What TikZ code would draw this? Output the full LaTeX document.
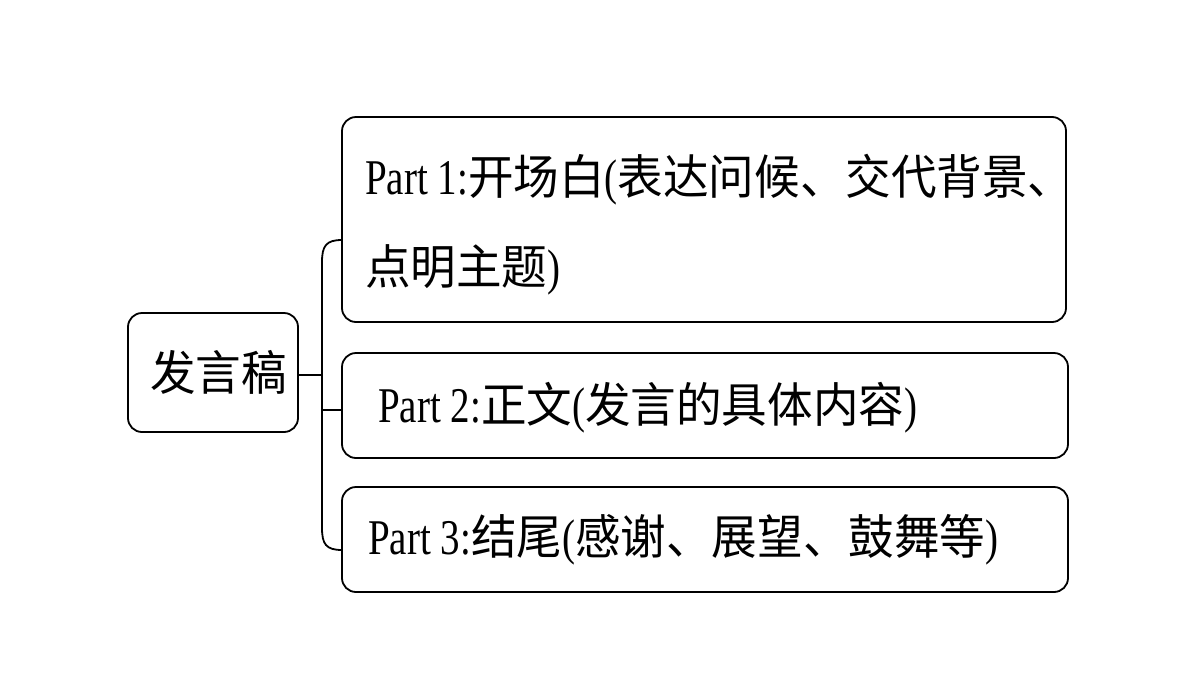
\documentclass[tikz,border=0pt]{standalone}
\usepackage{fontspec}
\setmainfont{Liberation Serif}
\newfontfamily\cjk{Noto Sans CJK SC}[Scale=0.95]
\newcommand{\zh}[1]{\scalebox{1.23}[1]{\cjk #1}}
\newcommand{\sq}[1]{\scalebox{0.78}[1]{\fontsize{50}{60}\selectfont #1}}
\begin{document}
\begin{tikzpicture}[x=1pt,y=-1pt,
  box/.style={draw,line width=1.8pt,rounded corners=14pt},
  ln/.style={line width=1.8pt},
  txt/.style={anchor=west,inner sep=0pt}]
\useasboundingbox (0,0) rectangle (1200,675);
\draw[box] (128,313) rectangle (298,432);
\draw[box] (342,117) rectangle (1066,322);
\draw[box] (342,353) rectangle (1068,458);
\draw[box] (342,487) rectangle (1068,592);
\coordinate (r) at (298,375);
\coordinate (j) at (322,375);
\draw[ln] (r) -- (j);
\draw[ln] (342,240) .. controls (326,240) and (322,246) .. (322,262) -- (322,528) .. controls (322,544) and (326,550) .. (342,550);
\draw[ln] (322,410) -- (342,410);
\node[txt] (t0) at (150,372) {\sq{\zh{发言稿}}};
\node[txt] (t1) at (365,180) {\sq{Part 1:\zh{开场白}(\zh{表达问候、交代背景、}}};
\node[txt] (t1b) at (365,270) {\sq{\zh{点明主题})}};
\node[txt] (t2) at (378,408) {\sq{Part 2:\zh{正文}(\zh{发言的具体内容})}};
\node[txt] (t3) at (368,540) {\sq{Part 3:\zh{结尾}(\zh{感谢、展望、鼓舞等})}};
\end{tikzpicture}
\end{document}
